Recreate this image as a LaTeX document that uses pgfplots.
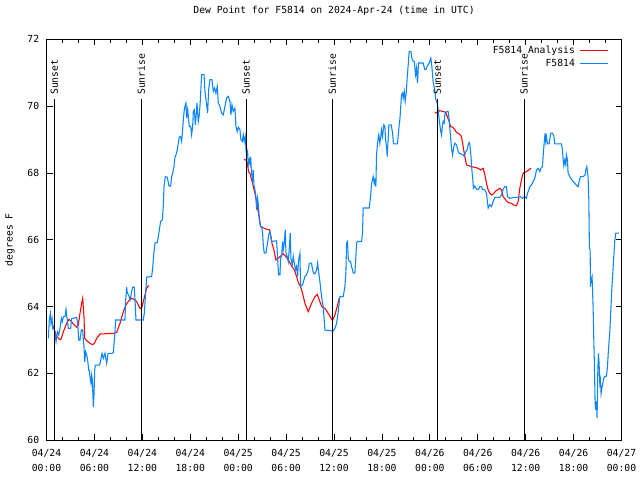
\documentclass[border=0pt]{standalone}
\usepackage{fontspec}
\setmainfont{DejaVu Sans Mono}
\usepackage{pgfplots}
\pgfplotsset{compat=1.18}
\definecolor{anared}{RGB}{255,0,0}
\definecolor{obsblue}{RGB}{10,132,255}
\pgfplotstableread{
h y
0.77 63.45
1.06 63.25
1.27 63.10
1.61 63.02
1.81 63.02
2.11 63.25
2.52 63.50
2.82 63.62
3.02 63.58
3.36 63.48
3.78 63.38
3.98 63.45
4.19 63.80
4.40 64.10
4.53 64.25
4.69 63.70
4.78 63.05
5.03 62.98
5.44 62.90
5.78 62.86
5.99 62.90
6.28 63.05
6.70 63.18
8.45 63.20
8.78 63.23
9.20 63.50
9.62 63.85
9.95 64.05
10.28 64.17
10.66 64.25
10.95 64.22
11.29 64.15
11.49 64.05
11.70 63.95
11.91 63.95
12.12 64.15
12.33 64.35
12.54 64.55
12.74 64.62
12.87 64.62
}\redA
\pgfplotstableread{
h y
24.72 68.40
25.05 68.38
25.14 68.29
25.30 68.04
25.47 67.99
25.80 67.69
26.14 67.34
26.47 66.89
26.64 66.67
26.80 66.40
27.47 66.32
27.89 66.30
28.06 66.15
28.22 65.90
28.47 65.70
28.72 65.40
29.02 65.45
29.64 65.58
29.98 65.50
30.39 65.35
30.73 65.20
31.02 65.10
31.31 64.90
31.56 64.70
31.81 64.60
32.06 64.40
32.35 64.10
32.77 63.85
33.19 64.10
33.61 64.30
33.90 64.37
34.15 64.20
34.48 63.99
34.86 63.95
35.27 63.80
35.82 63.58
36.11 63.75
36.40 64.00
36.65 64.25
}\redB
\pgfplotstableread{
h y
48.62 69.79
48.83 69.81
49.25 69.86
49.67 69.84
50.00 69.81
50.17 69.69
50.42 69.54
50.59 69.39
50.84 69.37
51.13 69.29
51.34 69.21
51.67 69.17
51.96 69.09
52.17 68.79
52.38 68.49
52.59 68.24
53.21 68.19
54.05 68.14
54.34 68.09
54.68 68.14
54.89 67.94
55.09 67.69
55.30 67.49
55.51 67.39
55.72 67.34
55.93 67.37
56.26 67.46
56.76 67.54
56.97 67.49
57.18 67.29
57.51 67.19
57.81 67.11
58.22 67.09
58.51 67.04
58.85 67.02
59.05 67.14
59.26 67.54
59.60 67.94
59.76 68.01
60.10 68.04
60.39 68.09
60.64 68.14
}\redC
\pgfplotstableread{
h y
0.23 63.05
0.35 63.60
0.48 63.80
0.56 63.50
0.69 63.65
0.77 63.35
0.94 63.40
1.19 62.95
1.36 63.25
1.52 63.15
1.69 63.35
1.86 63.65
1.98 63.55
2.11 63.70
2.32 63.70
2.44 63.92
2.52 63.75
2.65 63.50
2.73 63.35
3.02 63.35
3.15 63.65
3.36 63.65
3.77 63.68
3.90 63.50
4.03 63.00
4.19 63.00
4.36 63.30
4.53 63.30
4.61 63.00
4.69 62.80
4.78 62.35
4.90 62.65
5.03 62.55
5.15 62.40
5.28 62.10
5.36 62.10
5.44 61.90
5.57 61.70
5.65 61.95
5.74 61.80
5.86 61.00
5.95 61.40
6.03 62.10
6.11 62.25
6.61 62.25
6.70 62.30
6.95 62.60
7.11 62.45
7.32 62.60
7.53 62.30
7.70 62.60
8.16 62.60
8.36 62.62
8.53 63.10
8.66 63.60
9.82 63.60
9.91 64.20
10.03 64.58
10.12 64.40
10.28 64.35
10.45 64.20
10.66 64.45
10.78 64.58
10.99 64.58
11.08 64.20
11.20 63.60
12.12 63.60
12.24 63.80
12.41 64.40
12.54 64.88
13.16 64.90
13.29 65.15
13.45 65.62
13.58 65.90
13.87 65.92
14.00 66.10
14.12 66.30
14.29 66.55
14.50 66.60
14.62 67.00
14.71 67.59
14.87 67.89
15.12 67.87
15.33 67.61
15.54 67.61
15.67 67.89
15.79 67.99
15.96 68.19
16.08 68.47
16.21 68.54
16.37 68.69
16.50 68.89
16.62 69.07
16.79 69.09
16.92 68.94
17.04 69.29
17.13 69.59
17.25 69.89
17.38 70.04
17.46 70.09
17.54 69.64
17.67 69.89
17.88 69.39
18.05 69.39
18.17 69.14
18.30 69.39
18.38 69.84
18.50 69.89
18.63 69.44
18.71 69.64
18.84 70.09
19.00 69.54
19.13 69.74
19.25 70.14
19.42 70.94
19.72 70.94
19.84 70.44
20.05 70.04
20.17 69.79
20.30 70.49
20.46 70.79
20.71 70.79
20.88 70.44
21.05 70.54
21.21 70.39
21.38 70.59
21.51 70.09
21.71 69.99
21.92 69.79
22.13 69.74
22.34 69.99
22.55 70.24
22.76 70.29
22.97 70.14
23.09 69.74
23.22 70.04
23.38 69.84
23.59 69.94
23.72 69.39
23.88 69.24
24.01 69.37
24.22 69.29
24.34 68.99
24.51 68.94
24.63 69.14
24.76 68.94
24.88 69.09
24.97 68.74
25.05 68.49
25.18 68.64
25.26 68.24
25.39 68.39
25.47 68.29
25.55 68.49
25.68 67.99
25.80 67.79
25.89 68.09
25.97 67.64
26.10 67.49
26.22 67.29
26.30 66.89
26.43 67.24
26.55 66.99
26.64 66.59
26.80 66.39
26.93 66.39
27.06 66.19
27.14 65.85
27.26 65.60
27.47 65.60
27.56 65.75
27.68 65.90
27.81 66.15
27.97 66.25
28.18 65.95
28.81 65.97
28.93 65.45
29.06 64.95
29.23 64.95
29.31 65.45
29.43 65.50
29.56 65.95
29.64 65.70
29.77 65.90
29.89 66.30
29.98 65.60
30.14 65.50
30.27 65.35
30.40 65.75
30.52 66.20
30.60 65.45
30.77 65.25
30.90 65.50
31.06 65.25
31.19 65.10
31.31 65.20
31.44 64.90
31.56 65.40
31.73 65.60
31.81 64.60
32.06 64.65
32.35 64.90
32.56 64.95
32.77 65.10
32.90 65.30
33.19 65.30
33.31 65.10
33.48 64.98
33.65 65.00
33.82 65.10
33.94 65.30
34.07 65.05
34.23 64.75
34.44 64.30
34.65 63.99
34.86 63.30
35.90 63.27
36.11 63.35
36.32 63.50
36.53 63.85
36.73 64.30
37.15 64.30
37.36 64.60
37.49 65.05
37.57 65.90
37.69 65.95
37.78 65.45
37.90 65.35
38.07 65.35
38.19 65.20
38.32 65.10
38.40 65.00
38.61 65.00
38.74 65.50
38.82 65.90
38.94 65.95
39.45 65.95
39.57 66.22
39.65 66.95
40.40 66.95
40.49 67.10
40.61 67.39
40.70 67.69
40.82 67.79
40.90 67.89
41.03 67.69
41.11 67.79
41.24 67.59
41.32 68.54
41.45 68.89
41.53 69.04
41.61 69.14
41.74 68.89
41.86 69.09
41.95 69.29
42.07 69.09
42.24 69.44
42.37 69.39
42.45 68.99
42.58 68.79
42.66 68.49
42.78 69.04
42.87 69.44
43.16 69.44
43.33 69.19
43.45 68.87
43.95 68.87
44.12 69.34
44.24 69.59
44.33 69.89
44.45 70.34
44.58 70.39
44.66 70.24
44.79 70.44
44.91 70.14
45.04 70.39
45.16 70.84
45.29 71.24
45.41 71.64
45.62 71.64
45.75 71.44
45.91 71.34
46.04 71.34
46.21 70.94
46.33 71.14
46.45 70.69
46.58 71.29
47.16 71.29
47.37 71.09
47.50 71.09
47.66 71.19
47.91 71.29
48.12 71.44
48.25 71.19
48.42 70.69
48.62 70.49
48.75 70.19
48.92 70.09
49.04 69.89
49.17 69.59
49.33 69.29
49.46 69.14
49.58 69.44
49.67 69.54
49.79 69.49
49.87 69.74
50.08 69.84
50.29 69.84
50.42 69.59
50.50 69.34
50.59 69.09
50.71 68.74
50.84 68.54
51.00 68.79
51.13 68.89
51.34 68.84
51.54 68.64
51.67 68.59
52.17 68.54
52.30 68.49
52.50 68.64
52.67 68.69
52.80 68.84
52.92 68.91
53.01 68.84
53.09 68.64
53.17 68.44
53.21 68.24
53.30 67.99
53.38 67.79
53.46 67.54
53.63 67.61
53.84 67.51
54.09 67.51
54.26 67.59
54.47 67.59
54.59 67.51
54.89 67.49
55.09 67.39
55.30 66.95
55.51 67.05
55.72 67.00
55.93 67.15
56.13 67.27
56.76 67.27
56.97 67.34
57.18 67.51
57.39 67.59
57.59 67.59
57.72 67.29
58.01 67.24
58.64 67.27
59.05 67.27
59.35 67.29
59.60 67.24
59.89 67.29
60.10 67.24
60.22 67.39
60.39 67.49
60.52 67.59
60.72 67.64
60.93 67.74
61.14 67.84
61.35 68.09
61.56 68.14
61.77 68.04
61.89 68.14
62.10 68.19
62.18 68.49
62.31 68.89
62.43 69.19
62.51 68.94
62.60 69.09
62.72 68.87
62.93 68.87
63.14 69.19
63.35 69.19
63.52 69.11
63.64 68.87
64.48 68.87
64.60 68.69
64.69 68.39
64.77 68.22
64.89 68.39
65.02 68.24
65.10 68.54
65.23 68.39
65.31 67.99
65.52 67.89
65.73 67.81
65.94 67.74
66.15 67.69
66.35 67.64
66.56 67.59
66.69 67.74
66.85 67.89
67.19 67.89
67.44 67.94
67.52 68.09
67.65 68.19
67.73 68.04
67.81 67.89
67.90 67.24
67.98 65.75
68.07 65.70
68.11 64.60
68.19 64.80
68.31 64.90
68.44 64.00
68.52 63.10
68.61 62.20
68.69 61.11
68.78 60.91
68.86 61.16
68.94 60.66
69.03 62.10
69.11 62.60
69.19 62.30
69.28 61.70
69.36 61.80
69.44 61.40
69.57 61.60
69.69 61.75
69.82 61.90
70.11 61.92
70.24 62.20
70.36 62.70
70.53 63.25
70.66 63.90
70.78 64.50
70.90 64.98
71.03 65.50
71.15 65.95
71.28 66.20
71.70 66.20
}\blue
\begin{document}
\begin{tikzpicture}[font=\fontsize{7.3}{9}\selectfont]
\path[use as bounding box] (-34.9pt,-29.8pt) rectangle (445.1pt,330.2pt);
\begin{axis}[
  scale only axis, width=431.25pt, height=300.75pt,
  at={(0pt,0pt)}, anchor=south west,
  xmin=0, xmax=72, ymin=60, ymax=72,
  clip=false,
  axis line style={line width=0.75pt},
  tick style={line width=0.6pt, black},
  tick align=inside,
  major tick length=4.5pt, minor tick length=2.5pt,
  xtick={0,6,...,72}, minor x tick num=2,
  xticklabels={{04/24\\00:00},{04/24\\06:00},{04/24\\12:00},{04/24\\18:00},{04/25\\00:00},{04/25\\06:00},{04/25\\12:00},{04/25\\18:00},{04/26\\00:00},{04/26\\06:00},{04/26\\12:00},{04/26\\18:00},{04/27\\00:00}},
  ytick={60,62,...,72},
  /pgf/number format/assume math mode=true,
  tick label style={font=\fontsize{7.3}{11.25}\selectfont},
  xticklabel style={align=center, yshift=-3pt},
  yticklabel style={xshift=-2pt},
  title={Dew Point for F5814 on 2024-Apr-24 (time in UTC)},
  title style={at={(0.5,1)}, anchor=center, yshift=15.3pt, font=\fontsize{7.3}{9}\selectfont},
  ylabel={degrees F},
  ylabel style={at={(axis description cs:-0.0635,0.5)}, anchor=center, font=\fontsize{7.3}{9}\selectfont},
  legend cell align=right,
  legend plot pos=right,
  legend image code/.code={\draw[#1] (0pt,0pt) -- (21pt,0pt);},
  legend style={at={(0.985,0.992)}, anchor=north east, draw=none, fill=none,
    font=\fontsize{7.3}{9}\selectfont, row sep=1.5pt, column sep=3pt,
    nodes={inner sep=0.5pt, text height=5.5pt, text depth=1.7pt}},
]
\addplot[anared, line width=0.8pt] table[x=h,y=y] {\redA};
\addlegendentry{F5814 Analysis}
\addplot[anared, line width=0.8pt, forget plot] table[x=h,y=y] {\redB};
\addplot[anared, line width=0.8pt, forget plot] table[x=h,y=y] {\redC};
\addplot[obsblue, line width=0.8pt] table[x=h,y=y] {\blue};
\addlegendentry{F5814}
\addplot[black, line width=0.8pt, forget plot] coordinates {(0.98,60) (0.98,70.2)};
\addplot[black, line width=0.8pt, forget plot] coordinates {(11.87,60) (11.87,70.2)};
\addplot[black, line width=0.8pt, forget plot] coordinates {(24.99,60) (24.99,70.2)};
\addplot[black, line width=0.8pt, forget plot] coordinates {(35.77,60) (35.77,70.2)};
\addplot[black, line width=0.8pt, forget plot] coordinates {(48.95,60) (48.95,70.2)};
\addplot[black, line width=0.8pt, forget plot] coordinates {(59.80,60) (59.80,70.2)};
\node[rotate=90, anchor=west, inner sep=0pt] at (axis cs:0.98,70.33) {Sunset};
\node[rotate=90, anchor=west, inner sep=0pt] at (axis cs:11.87,70.33) {Sunrise};
\node[rotate=90, anchor=west, inner sep=0pt] at (axis cs:24.99,70.33) {Sunset};
\node[rotate=90, anchor=west, inner sep=0pt] at (axis cs:35.77,70.33) {Sunrise};
\node[rotate=90, anchor=west, inner sep=0pt] at (axis cs:48.95,70.33) {Sunset};
\node[rotate=90, anchor=west, inner sep=0pt] at (axis cs:59.80,70.33) {Sunrise};
\end{axis}
\end{tikzpicture}
\end{document}
